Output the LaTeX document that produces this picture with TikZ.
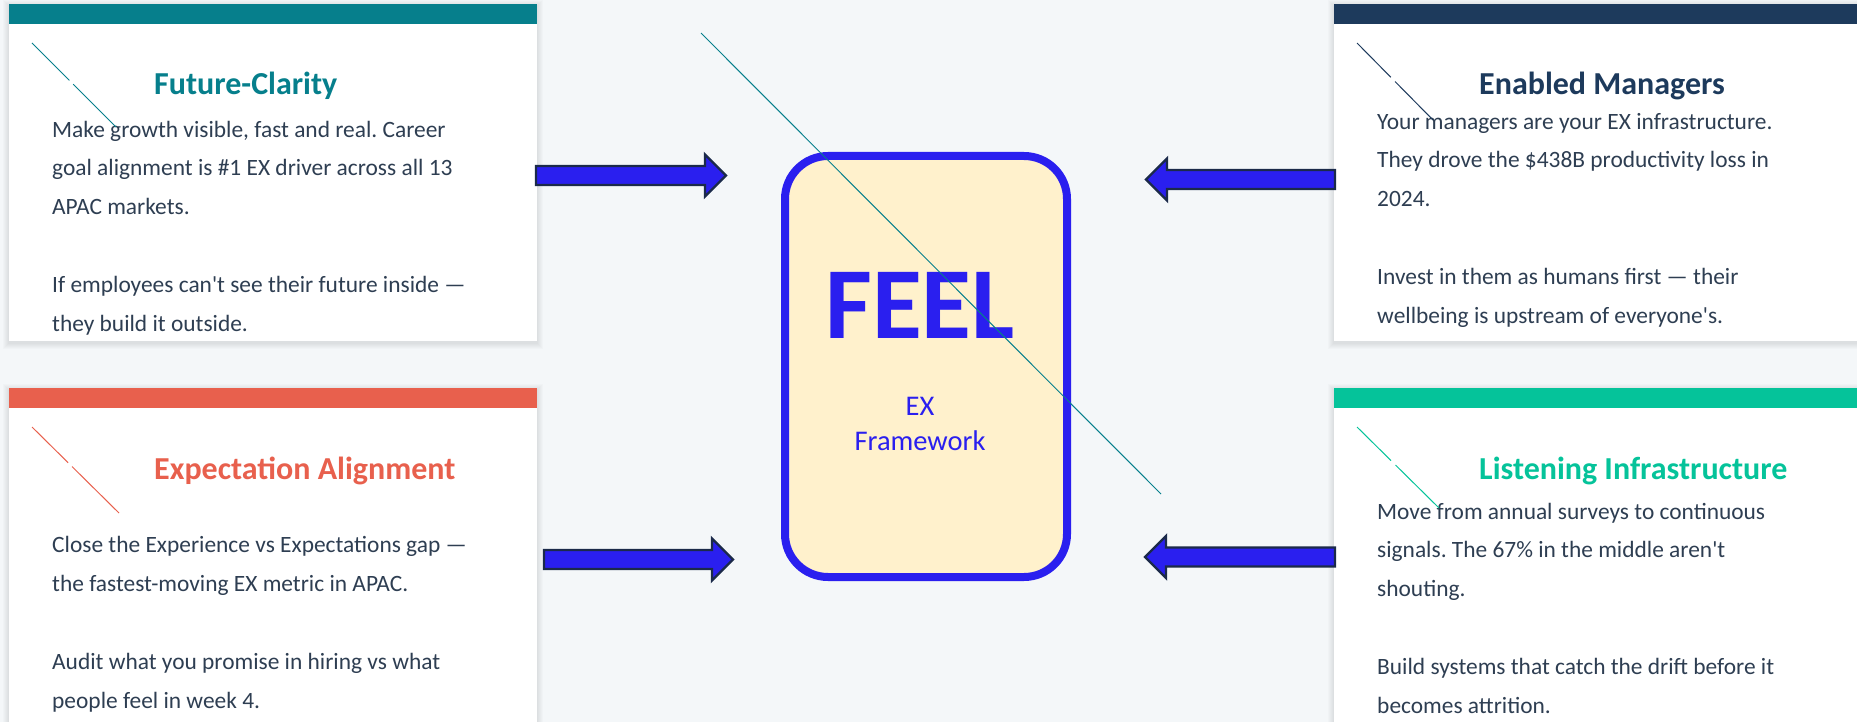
\documentclass[tikz,border=0pt]{standalone}
\usepackage{fontspec}
\setmainfont{Carlito}[Ligatures=TeXOff]
\frenchspacing
\usetikzlibrary{calc}
\definecolor{cbg}{HTML}{F4F7F9}
\definecolor{cteal}{HTML}{067F8C}
\definecolor{csalmon}{HTML}{E8604D}
\definecolor{cnavy}{HTML}{1D3A5C}
\definecolor{cgreen}{HTML}{05C39A}
\definecolor{ctext}{HTML}{2E3E52}
\definecolor{cblue}{HTML}{2A1FEF}
\definecolor{cline}{HTML}{1B2A4A}
\definecolor{cbox}{HTML}{FFF1CC}
\newcommand\blockarrow[3]{%
  \draw[barrow] ($(#1)+(0,-9.5)$) -- ($(#2)+(#3,-9.5)$) -- ($(#2)+(#3,-21)$) -- (#2)
    -- ($(#2)+(#3,21)$) -- ($(#2)+(#3,9.5)$) -- ($(#1)+(0,9.5)$) -- cycle;}
\newcommand\cardshadow[4]{%
  \foreach \k in {1,...,6}{\fill[black,opacity=0.014] (#1-\k,#2-\k+2) rectangle (#3+\k,#4+\k+2);}}
\begin{document}
\begin{tikzpicture}[x=1pt,y=-1pt,
  barrow/.style={fill=cblue,draw=cline,line width=2.4pt,line join=miter},
  title/.style={anchor=base west,inner sep=0pt,font=\fontsize{32}{38}\selectfont\bfseries},
  body/.style={anchor=base west,inner sep=0pt,align=left,text=ctext,font=\fontsize{23.4}{38.8}\selectfont},
  icon/.style={line width=1pt},
]
\useasboundingbox (0,0) rectangle (1857,722);
\fill[cbg] (0,0) rectangle (1857,722);
\begin{scope}
\clip (0,0) rectangle (1857,722);
% cards
\cardshadow{9}{4}{537}{341}
\cardshadow{9}{388}{537}{740}
\cardshadow{1334}{4}{1880}{341}
\cardshadow{1334}{388}{1880}{740}
\fill[white] (9,4) rectangle (537,341);
\fill[white] (9,388) rectangle (537,740);
\fill[white] (1334,4) rectangle (1880,341);
\fill[white] (1334,388) rectangle (1880,740);
\fill[cteal] (9,4) rectangle (537,24);
\fill[csalmon] (9,388) rectangle (537,408);
\fill[cnavy] (1334,4) rectangle (1880,24);
\fill[cgreen] (1334,388) rectangle (1880,408);

% titles
\node[title,text=cteal] (t1) at (154,95) {Future-Clarity};
\node[title,text=csalmon] (t2) at (154,479) {Expectation Alignment};
\node[title,text=cnavy] (t3) at (1479,95) {Enabled Managers};
\node[title,text=cgreen] (t4) at (1479,479) {Listening Infrastructure};

% bodies (anchored at the baseline of the last line)
\node[body] (b1) at (52,331) {Make growth visible, fast and real. Career\\goal alignment is \#1 EX driver across all 13\\APAC markets.\\[38.8pt]If employees can't see their future inside —\\they build it outside.};
\node[body] (b2) at (52,708) {Close the Experience vs Expectations gap —\\the fastest-moving EX metric in APAC.\\[38.8pt]Audit what you promise in hiring vs what\\people feel in week 4.};
\node[body] (b3) at (1377,323) {Your managers are your EX infrastructure.\\They drove the \$438B productivity loss in\\2024.\\[38.8pt]Invest in them as humans first — their\\wellbeing is upstream of everyone's.};
\node[body] (b4) at (1377,713) {Move from annual surveys to continuous\\signals. The 67\% in the middle aren't\\shouting.\\[38.8pt]Build systems that catch the drift before it\\becomes attrition.};

% icon strokes
\coordinate (i1a) at (32,43);   \coordinate (i1b) at (116,127);
\coordinate (i2a) at (32,427);  \coordinate (i2b) at (119,513);
\coordinate (i3a) at (1357,43); \coordinate (i3b) at (1433,120);
\coordinate (i4a) at (1357,427);\coordinate (i4b) at (1439,508);
\draw[icon,cteal] (i1a) -- ($(i1a)!0.445!(i1b)$) ($(i1a)!0.49!(i1b)$) -- (i1b);
\draw[icon,csalmon] (i2a) -- ($(i2a)!0.415!(i2b)$) ($(i2a)!0.46!(i2b)$) -- (i2b);
\draw[icon,cnavy] (i3a) -- ($(i3a)!0.445!(i3b)$) ($(i3a)!0.5!(i3b)$) -- (i3b);
\draw[icon,cgreen] (i4a) -- ($(i4a)!0.415!(i4b)$) ($(i4a)!0.47!(i4b)$) -- (i4b);

% central box
\node[draw=cblue,line width=8pt,fill=cbox,rounded corners=43pt,minimum width=282pt,minimum height=421pt,inner sep=0pt] (feel) at (926,366.5) {};
\node[anchor=base,inner sep=0pt,text=cblue,font=\fontsize{102}{102}\selectfont\bfseries] (feelt) at (920,338) {FEEL};
\node[anchor=base,inner sep=0pt,text=cblue,font=\fontsize{28.5}{35}\selectfont] (ex) at (920,415) {EX};
\node[anchor=base,inner sep=0pt,text=cblue,font=\fontsize{28.5}{35}\selectfont] (fw) at (920,450) {Framework};

% arrows
\coordinate (a1s) at (536,175.5); \coordinate (a1t) at (726,175.5);
\coordinate (a2s) at (544,559.5); \coordinate (a2t) at (733,559.5);
\coordinate (a3s) at (1335,179.5); \coordinate (a3t) at (1146,179.5);
\coordinate (a4s) at (1335,557); \coordinate (a4t) at (1145,557);
\blockarrow{a1s}{a1t}{-21}
\blockarrow{a2s}{a2t}{-21}
\blockarrow{a3s}{a3t}{21}
\blockarrow{a4s}{a4t}{21}

% long diagonal
\coordinate (d0) at (701,33); \coordinate (d1) at (1161,494);
\draw[cteal,line width=1pt] (d0) -- (d1);
\end{scope}
\end{tikzpicture}
\end{document}
